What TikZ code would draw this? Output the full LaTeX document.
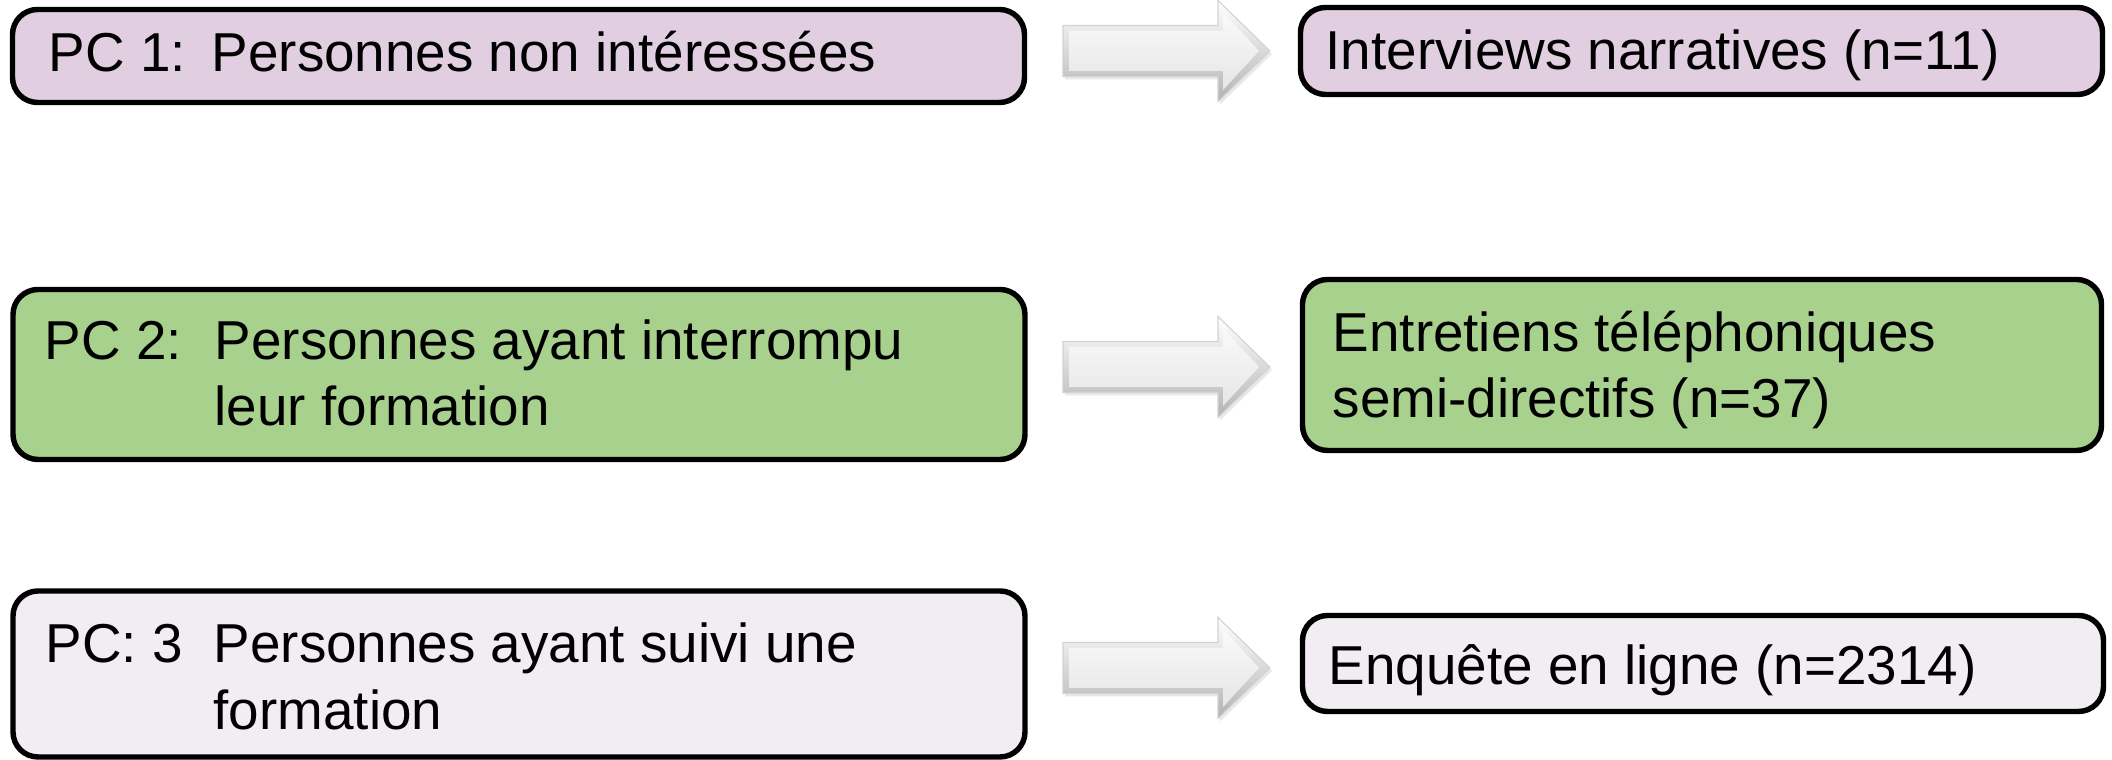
\documentclass[tikz,border=0pt]{standalone}
\usepackage{fontspec}
\setmainfont{Liberation Sans}
\definecolor{pcmauve}{RGB}{225,206,225}
\definecolor{pcgreen}{RGB}{169,209,142}
\definecolor{pclight}{RGB}{242,236,243}
\tikzset{
  box/.style={draw=black,line width=1.55pt,rounded corners=0.25cm,inner sep=0pt},
  lbl/.style={anchor=base west,inner sep=0pt,font=\fontsize{15.6}{18}\selectfont},
  blockarrow/.pic={
    \fill[gray!35,opacity=0.5] (0.02,0.225) -- (1.57,0.225) -- (1.57,0.475) -- (2.09,-0.03) -- (1.57,-0.535) -- (1.57,-0.285) -- (0.02,-0.285) -- cycle;
    \shade[top color=white,bottom color=gray!60,draw=gray!35,line width=0.3pt] (0,0.255) -- (1.55,0.255) -- (1.55,0.505) -- (2.07,0) -- (1.55,-0.505) -- (1.55,-0.255) -- (0,-0.255) -- cycle;
    \shade[top color=gray!4,bottom color=gray!20] (0.06,0.2) -- (1.6,0.2) -- (1.6,0.39) -- (1.96,0) -- (1.6,-0.39) -- (1.6,-0.2) -- (0.06,-0.2) -- cycle;
  }
}
\begin{document}
\begin{tikzpicture}
		\useasboundingbox (0,0) rectangle (21.12,7.60);
		% left boxes
		\node[box,fill=pcmauve,minimum width=10.12cm,minimum height=0.93cm] (l1) at (5.185,7.04) {};
		\node[box,fill=pcgreen,minimum width=10.12cm,minimum height=1.70cm] (l2) at (5.19,3.855) {};
		\node[box,fill=pclight,minimum width=10.12cm,minimum height=1.66cm] (l3) at (5.19,0.86) {};
		% right boxes
		\node[box,fill=pcmauve,minimum width=8.02cm,minimum height=0.87cm] (r1) at (17.015,7.09) {};
		\node[box,fill=pcgreen,minimum width=7.99cm,minimum height=1.71cm] (r2) at (17.02,3.95) {};
		\node[box,fill=pclight,minimum width=8.01cm,minimum height=0.96cm] (r3) at (17.03,0.965) {};
		% texts
		\node[lbl] (l1a) at (0.48,6.88) {PC 1:};
		\node[lbl] (l1b) at (2.11,6.88) {Personnes non intéressées};
		\node[lbl] (l2a) at (0.44,4.00) {PC 2:};
		\node[lbl] (l2b) at (2.14,4.00) {Personnes ayant interrompu};
		\node[lbl] (l2c) at (2.14,3.34) {leur formation};
		\node[lbl] (l3a) at (0.45,0.97) {PC: 3};
		\node[lbl] (l3b) at (2.13,0.97) {Personnes ayant suivi une};
		\node[lbl] (l3c) at (2.13,0.30) {formation};
		\node[lbl] (r1a) at (13.25,6.90) {Interviews narratives (n=11)};
		\node[lbl] (r2a) at (13.32,4.08) {Entretiens téléphoniques};
		\node[lbl] (r2b) at (13.32,3.42) {semi-directifs (n=37)};
		\node[lbl] (r3a) at (13.28,0.75) {Enquête en ligne (n=2314)};
		% arrows
		\pic (a1) at (10.63,7.09) {blockarrow};
		\pic (a2) at (10.63,3.93) {blockarrow};
		\pic (a3) at (10.63,0.92) {blockarrow};
\end{tikzpicture}
\end{document}
